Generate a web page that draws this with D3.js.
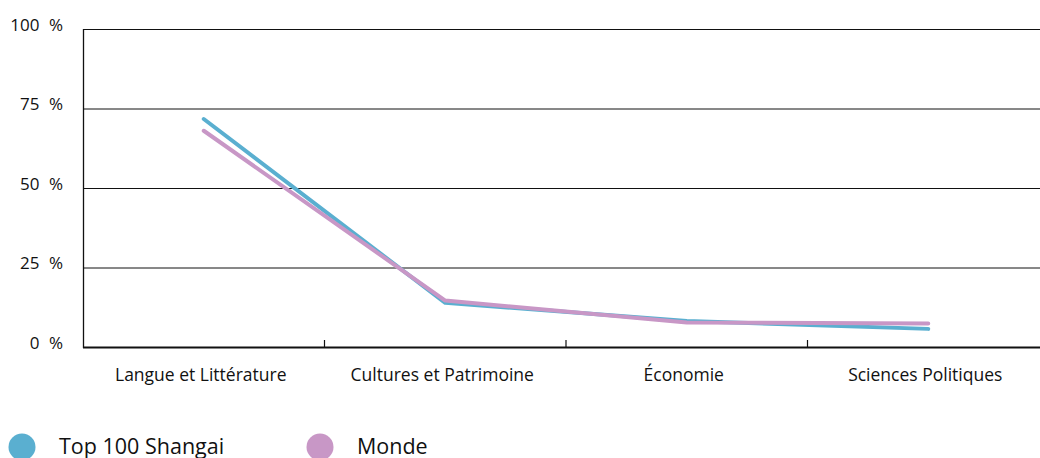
<!DOCTYPE html>
<html>
<head>
<meta charset="utf-8">
<script src="https://cdn.jsdelivr.net/npm/d3@7"></script>
<style>
    body { margin: 0; background: #fff; }
    text { font-family: "Open Sans", "Noto Sans", sans-serif; fill: #111; }
</style>
</head>
<body>
<div id="chart"></div>
<script>
var categories = ["Langue et Littérature", "Cultures et Patrimoine", "Économie", "Sciences Politiques"];
var top100 = [71.7, 13.9, 8.2, 5.7];
var monde = [68, 14.6, 7.7, 7.4];
var yTicks = [0, 25, 50, 75, 100];
var seriesNames = ["Top 100 Shangai", "Monde"];
var seriesColors = ["#5aafd0", "#c897c6"];

function drawChart() {
    var width = 1040, height = 458;
    var svg = d3.select("#chart").append("svg")
        .attr("width", width).attr("height", height);

    var x = d3.scaleBand().domain(categories).range([83, 1049]);
    var y = d3.scaleLinear().domain([0, 100]).range([347, 29]);

    // grid lines
    svg.append("g").selectAll("line").data(yTicks.filter(function (d) { return d > 0; }))
        .enter().append("line")
        .attr("x1", 83).attr("x2", width)
        .attr("y1", function (d) { return y(d) + 0.5; })
        .attr("y2", function (d) { return y(d) + 0.5; })
        .attr("stroke", "#111").attr("stroke-width", 1);

    // y labels
    svg.append("g").selectAll("text").data(yTicks)
        .enter().append("text")
        .attr("x", 63)
        .attr("y", function (d) { return y(d) + 1.5; })
        .attr("text-anchor", "end")
        .style("font-size", "17px")
        .style("word-spacing", "5px")
        .text(function (d) { return d + " %"; });

    // axes
    svg.append("line").attr("x1", 83.5).attr("x2", 83.5).attr("y1", y(100)).attr("y2", y(0) + 1)
        .attr("stroke", "#111").attr("stroke-width", 1.3);
    svg.append("line").attr("x1", 83).attr("x2", width).attr("y1", y(0) + 0.5).attr("y2", y(0) + 0.5)
        .attr("stroke", "#111").attr("stroke-width", 1.8);

    // band ticks
    svg.append("g").selectAll("line").data(categories.slice(1))
        .enter().append("line")
        .attr("x1", function (d) { return x(d); })
        .attr("x2", function (d) { return x(d); })
        .attr("y1", y(0)).attr("y2", y(0) - 7)
        .attr("stroke", "#111").attr("stroke-width", 1.2);

    // x labels
    svg.append("g").selectAll("text").data(categories)
        .enter().append("text")
        .attr("x", function (d) { return x(d) + x.bandwidth() / 2 - 3; })
        .attr("y", 381)
        .attr("text-anchor", "middle")
        .style("font-size", "17.5px")
        .text(function (d) { return d; });

    // lines
    var line = d3.line()
        .x(function (d, i) { return x(categories[i]) + x.bandwidth() / 2; })
        .y(function (d) { return y(d); });
    [top100, monde].forEach(function (s, i) {
        svg.append("path").datum(s)
            .attr("d", line)
            .attr("fill", "none")
            .attr("stroke", seriesColors[i])
            .attr("stroke-width", 4)
            .attr("stroke-linecap", "round")
            .attr("stroke-linejoin", "round");
    });

    // legend
    var legX = [22, 320];
    var legend = svg.append("g").selectAll("g").data(seriesNames)
        .enter().append("g")
        .attr("transform", function (d, i) { return "translate(" + legX[i] + ",447)"; });
    legend.append("circle").attr("r", 13.5)
        .attr("fill", function (d, i) { return seriesColors[i]; });
    legend.append("text")
        .attr("x", 37).attr("y", 6.5)
        .style("font-size", "21.5px")
        .text(function (d) { return d; });
}

drawChart();
</script>
</body>
</html>
